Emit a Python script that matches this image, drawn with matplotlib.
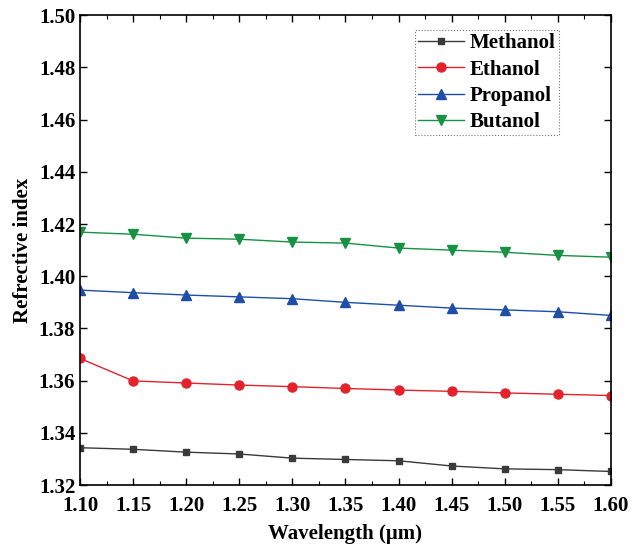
import matplotlib
matplotlib.use("Agg")
import matplotlib.pyplot as plt
from matplotlib.ticker import MultipleLocator

plt.rcParams['font.family'] = 'Liberation Serif'
plt.rcParams['font.weight'] = 'bold'

wavelength = [1.10, 1.15, 1.20, 1.25, 1.30, 1.35, 1.40, 1.45, 1.50, 1.55, 1.60]
methanol = [1.3343, 1.3337, 1.3326, 1.3319, 1.3303, 1.3298, 1.3293, 1.3273, 1.3262, 1.3259, 1.3252]
ethanol = [1.3685, 1.3599, 1.3591, 1.3583, 1.3577, 1.3570, 1.3564, 1.3559, 1.3553, 1.3548, 1.3543]
propanol = [1.3947, 1.3937, 1.3928, 1.3921, 1.3914, 1.3900, 1.3889, 1.3878, 1.3871, 1.3864, 1.3850]
butanol = [1.4169, 1.4161, 1.4146, 1.4142, 1.4131, 1.4127, 1.4108, 1.4100, 1.4092, 1.4080, 1.4073]

fig = plt.figure(figsize=(6.41, 5.45), dpi=100)
ax = fig.add_axes([0.125, 0.110, 0.828, 0.862])

ax.plot(wavelength, methanol, color='#3a3a3a', marker='s', markersize=5, lw=1, label='Methanol')
ax.plot(wavelength, ethanol, color='#e3222b', marker='o', markersize=6.5, lw=1, label='Ethanol')
ax.plot(wavelength, propanol, color='#1f4ea8', marker='^', markersize=6.5, lw=1, label='Propanol')
ax.plot(wavelength, butanol, color='#179245', marker='v', markersize=6.5, lw=1, label='Butanol')

ax.set_xlim(1.10, 1.60)
ax.set_ylim(1.32, 1.50)
ax.xaxis.set_major_locator(MultipleLocator(0.05))
ax.xaxis.set_minor_locator(MultipleLocator(0.025))
ax.yaxis.set_major_locator(MultipleLocator(0.02))
ax.xaxis.set_major_formatter(plt.FormatStrFormatter('%.2f'))
ax.yaxis.set_major_formatter(plt.FormatStrFormatter('%.2f'))
ax.tick_params(which='both', direction='in', top=True, right=True, labelsize=15)
ax.tick_params(which='major', length=5, width=1)
ax.tick_params(which='minor', length=3, width=0.8)
ax.tick_params(axis='x', which='major', pad=8)
for s in ax.spines.values():
    s.set_linewidth(1.2)

ax.set_xlabel('Wavelength (μm)', fontsize=15, fontweight='bold', labelpad=6)
ax.set_ylabel('Refrective index', fontsize=15, fontweight='bold')

leg = ax.legend(loc='upper right', bbox_to_anchor=(0.902, 0.968), fontsize=15,
                frameon=True, fancybox=False, edgecolor='#555555',
                handlelength=2.2, handletextpad=0.3, borderpad=0.15, labelspacing=0.3,
                borderaxespad=0)
leg.get_frame().set_linewidth(0.8)
leg.get_frame().set_linestyle(':')

fig.savefig('out.png', dpi=100)
